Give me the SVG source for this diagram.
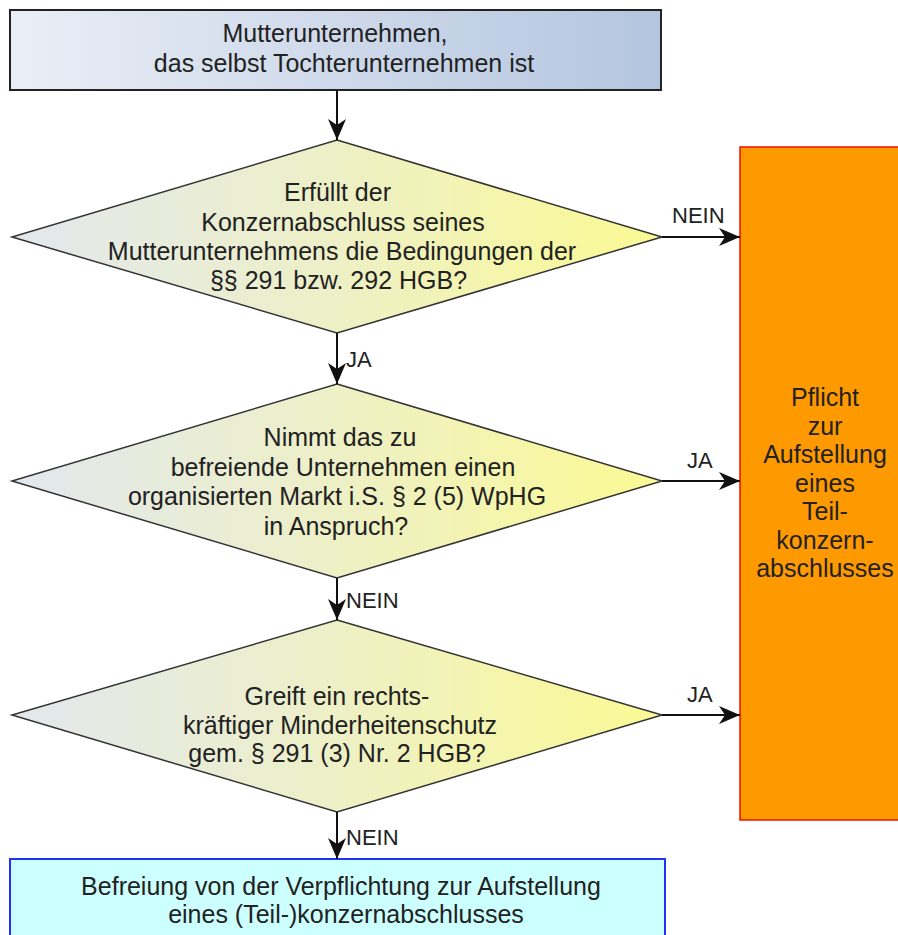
<svg xmlns="http://www.w3.org/2000/svg" width="898" height="935" viewBox="0 0 898 935">
<defs>
<linearGradient id="gTop" x1="0" y1="0" x2="1" y2="0">
<stop offset="0" stop-color="#eaeef6"/>
<stop offset="1" stop-color="#b3c5df"/>
</linearGradient>
<linearGradient id="gDia" x1="0" y1="0" x2="1" y2="0">
<stop offset="0" stop-color="#e2e8ee"/>
<stop offset="0.5" stop-color="#eef0c6"/>
<stop offset="1" stop-color="#fbfa94"/>
</linearGradient>
<marker id="arr" markerUnits="userSpaceOnUse" markerWidth="22" markerHeight="18" refX="21" refY="9" orient="auto">
<path d="M21,9 L0,0 L6,9 L0,18 Z" fill="#111"/>
</marker>
</defs>
<style>
text{font-family:"Liberation Sans",Arial,sans-serif;font-size:25px;fill:#222;text-anchor:middle}
.lbl{font-size:22px;text-anchor:start}
.dia{fill:url(#gDia);stroke:#333;stroke-width:1.5}
.con{stroke:#111;stroke-width:2;fill:none;marker-end:url(#arr)}
</style>
<g id="start">
<rect x="10" y="10" width="651" height="80" fill="url(#gTop)" stroke="#222" stroke-width="2"/>
<text x="335" y="42">Mutterunternehmen,</text>
<text x="344" y="72">das selbst Tochterunternehmen ist</text>
</g>
<g id="q1">
<polygon class="dia" points="337,140 662,237 337,333 12,237"/>
<text x="337.5" y="201">Erfüllt der</text>
<text x="343" y="231">Konzernabschluss seines</text>
<text x="342" y="260">Mutterunternehmens die Bedingungen der</text>
<text x="338.5" y="289">§§ 291 bzw. 292 HGB?</text>
</g>
<g id="q2">
<polygon class="dia" points="337,384 662,481 337,578 12,481"/>
<text x="340" y="446">Nimmt das zu</text>
<text x="343" y="476">befreiende Unternehmen einen</text>
<text x="337" y="505">organisierten Markt i.S. § 2 (5) WpHG</text>
<text x="336" y="535">in Anspruch?</text>
</g>
<g id="q3">
<polygon class="dia" points="337,620 662,715 337,812 12,715"/>
<text x="337" y="705">Greift ein rechts-</text>
<text x="340" y="734">kräftiger Minderheitenschutz</text>
<text x="337" y="762">gem. § 291 (3) Nr. 2 HGB?</text>
</g>
<g id="pflicht">
<rect x="740" y="147" width="175" height="673" fill="#ff9900" stroke="#ee1100" stroke-width="1.5"/>
<text x="825" y="406">Pflicht</text>
<text x="825" y="434.5">zur</text>
<text x="825" y="463">Aufstellung</text>
<text x="825" y="491.5">eines</text>
<text x="825" y="520">Teil-</text>
<text x="825" y="548.5">konzern-</text>
<text x="825" y="577">abschlusses</text>
</g>
<g id="befreiung">
<rect x="10" y="859" width="655" height="90" fill="#ccffff" stroke="#2233ee" stroke-width="2"/>
<text x="341" y="895">Befreiung von der Verpflichtung zur Aufstellung</text>
<text x="346" y="923">eines (Teil-)konzernabschlusses</text>
</g>
<g id="connectors">
<line class="con" x1="337" y1="90" x2="337" y2="140"/>
<line class="con" x1="337" y1="333" x2="337" y2="384"/>
<line class="con" x1="337" y1="578" x2="337" y2="620"/>
<line class="con" x1="337" y1="812" x2="337" y2="859"/>
<line class="con" x1="662" y1="237" x2="740" y2="237"/>
<line class="con" x1="662" y1="481" x2="740" y2="481"/>
<line class="con" x1="662" y1="715" x2="740" y2="715"/>
<text class="lbl" x="672" y="223">NEIN</text>
<text class="lbl" x="346" y="367">JA</text>
<text class="lbl" x="346" y="608">NEIN</text>
<text class="lbl" x="346" y="845">NEIN</text>
<text class="lbl" x="687" y="468">JA</text>
<text class="lbl" x="687" y="702">JA</text>
</g>
</svg>
